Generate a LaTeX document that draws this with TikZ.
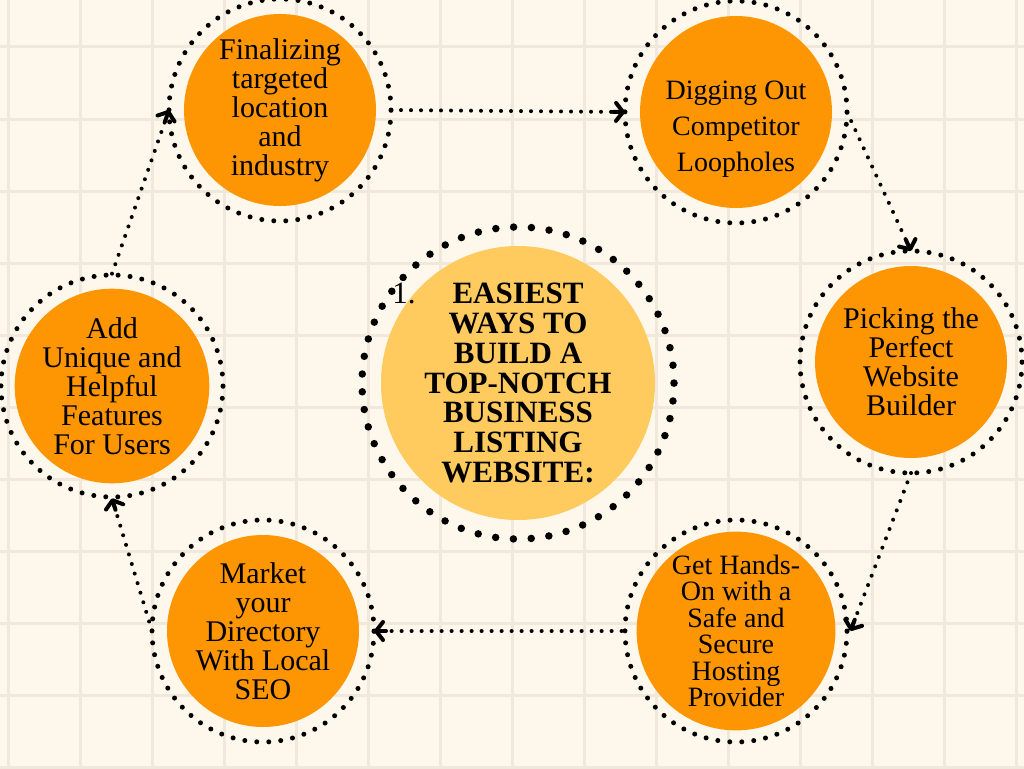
\documentclass[tikz,border=0pt]{standalone}
\usepackage{fontspec}
\setmainfont{Liberation Serif}
\usetikzlibrary{arrows.meta,calc}
\definecolor{paper}{HTML}{FDF8EB}
\definecolor{gridbeige}{HTML}{F0E8DA}
\definecolor{stepfill}{HTML}{FD9602}
\definecolor{hubfill}{HTML}{FFCB5E}

\begin{document}
\begin{tikzpicture}[x=1pt,y=-1pt,
    gridline/.style={gridbeige,line width=3pt},
    stepnode/.style={circle,fill=stepfill,minimum size=192pt,inner sep=0pt,outer sep=15pt,
                     align=center,font=\fontsize{30}{29}\selectfont},
    hub/.style={circle,fill=hubfill,minimum size=274pt,inner sep=0pt,outer sep=19pt,
                align=center,font=\fontsize{31}{29.7}\selectfont\bfseries},
    ring/.style={line width=5pt,line cap=round,dash pattern=on 0pt off 12.02pt},
    hubring/.style={line width=7.5pt,line cap=round,dash pattern=on 0pt off 17.82pt},
    link/.style={line width=4pt,line cap=round,dash pattern=on 0pt off 10pt},
    linktip/.style={line width=4pt,line cap=round,line join=round,solid,
                    -{Straight Barb[length=7pt,width=18pt,round]}}]
    \useasboundingbox (0,0) rectangle (1024,768);
    \fill[paper] (0,0) rectangle (1024,768);
    % background grid
    \foreach \gx in {8,80,...,1016}
        \draw[gridline] (\gx,0) -- (\gx,768);
    \foreach \gy in {47,119,...,767}
        \draw[gridline] (0,\gy) -- (1024,\gy);

    % steps
    \node[stepnode] (fin) at (280,110) {Finalizing\\ targeted\\ location\\ and\\ industry};
    \node[stepnode,label={[font=\fontsize{28}{36}\selectfont,align=center,yshift=-17pt]center:Digging Out\\ Competitor\\ Loopholes}] (dig) at (736,112) {};
    \node[stepnode] (pick) at (911,362) {Picking the\\ Perfect\\ Website\\ Builder};
    \node[stepnode,font=\fontsize{28}{26.5}\selectfont] (host) at (736,631) {Get Hands-\\ On with a\\ Safe and\\ Secure\\ Hosting\\ Provider};
    \node[stepnode] (mkt) at (263,631) {Market\\ your\\ Directory\\ With Local\\ SEO};
    \node[stepnode] (add) at (112,386) {Add\\ Unique and\\ Helpful\\ Features\\ For Users};
    \node[hub] (hub) at (518,383) {\llap{\mdseries 1.\hspace{37pt}}EASIEST\\ WAYS TO\\ BUILD A\\ TOP-NOTCH\\ BUSINESS\\ LISTING\\ WEBSITE:};

    % dotted rings
    \foreach \n in {fin,dig,pick,host,mkt,add}
        \draw[ring] (\n.center) circle[radius=111pt];
    \draw[hubring] (hub.center) circle[radius=156pt];

    % arrows
    \foreach \from/\to in {fin.east/dig.west, dig.east/pick.north, pick.south/host.east,
                           host.west/mkt.east, mkt.west/add.south, add.north/fin.west} {
        \draw[link] (\from) -- (\to);
        \draw[linktip] ($(\to)!12pt!(\from)$) -- (\to);
    }
\end{tikzpicture}
\end{document}
